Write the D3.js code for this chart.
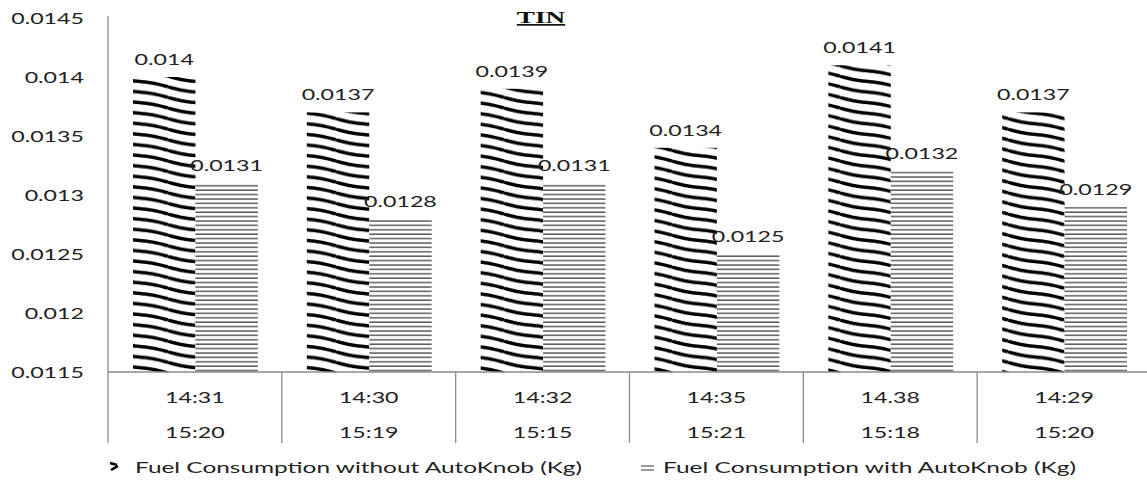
<!DOCTYPE html>
<html><head><meta charset="utf-8">
<script src="https://cdn.jsdelivr.net/npm/d3@7"></script>
<style>body{margin:0;background:#fff}svg{display:block}</style>
</head><body>
<svg id="c" width="1147" height="481"></svg>
<script>
const categoriesTop = ["14:31","14:30","14:32","14:35","14.38","14:29"];
const categoriesBottom = ["15:20","15:19","15:15","15:21","15:18","15:20"];
const withoutKnob = [0.014,0.0137,0.0139,0.0134,0.0141,0.0137];
const withKnob = [0.0131,0.0128,0.0131,0.0125,0.0132,0.0129];
const seriesNames = ["Fuel Consumption without AutoKnob (Kg)","Fuel Consumption with AutoKnob (Kg)"];
const yTicks = [0.0115,0.012,0.0125,0.013,0.0135,0.014,0.0145];
const title = "TIN";

const svg = d3.select("#c");
const SX = 1.45;
const FONT = "Lato, 'Open Sans', sans-serif";
function stretch(sel, f){ sel.each(function(){ const w=this.getComputedTextLength(); this.setAttribute("textLength", w*(f||SX)); this.setAttribute("lengthAdjust","spacingAndGlyphs"); }); }
function fitWidth(sel, w){ sel.attr("textLength", w).attr("lengthAdjust","spacingAndGlyphs"); }

const x0 = 108, x1 = 1151, yTop = 18, yBot = 372;
const x = d3.scaleBand().domain(d3.range(categoriesTop.length)).range([x0,x1]).paddingInner(0).paddingOuter(0);
const y = d3.scaleLinear().domain([0.0115,0.0145]).range([yBot,yTop]);
const inner = d3.scaleBand().domain([0,1]).range([25, x.bandwidth()-24]);

// patterns
const defs = svg.append("defs");
const W = 56, H = 10.6;
const p1 = defs.append("pattern").attr("id","wave").attr("patternUnits","userSpaceOnUse").attr("width",W).attr("height",H);
p1.append("rect").attr("width",W).attr("height",H).attr("fill","#fff");
const pts = d3.range(0, W+0.5, 1).map(t => [t, t*H/W + 0.8*Math.sin(2*Math.PI*t/W)]);
const ln = d3.line();
for (let k=-1;k<=1;k++){
  p1.append("path").attr("d", ln(pts.map(p=>[p[0], p[1]+k*H+2]))).attr("fill","none").attr("stroke","#000").attr("stroke-width",3.4);
}
const H2 = 4.4;
const p2 = defs.append("pattern").attr("id","hl").attr("patternUnits","userSpaceOnUse").attr("width",8).attr("height",H2);
p2.append("rect").attr("width",8).attr("height",H2).attr("fill","#fff");
p2.append("line").attr("x1",0).attr("x2",8).attr("y1",1).attr("y2",1).attr("stroke","#444").attr("stroke-width",1.3);

// bars
const g = svg.append("g");
const series = [withoutKnob, withKnob];
const fills = ["url(#wave)","url(#hl)"];
series.forEach((vals,si)=>{
  g.selectAll(null).data(vals).enter().append("rect")
    .attr("x",(d,i)=>x(i)+inner(si)).attr("width",inner.bandwidth())
    .attr("y",d=>y(d)).attr("height",d=>yBot-y(d)).attr("fill",fills[si]);
  g.selectAll(null).data(vals).enter().append("text")
    .attr("x",(d,i)=>x(i)+inner(si)+inner.bandwidth()/2).attr("y",d=>y(d)-12)
    .attr("text-anchor","middle").attr("font-family",FONT).attr("font-size",16).attr("fill","#222")
    .text(d=>d).call(stretch);
});

// axes
const axisColor = "#8a8a8a";
svg.append("line").attr("x1",x0).attr("x2",x0).attr("y1",yTop-2).attr("y2",yBot).attr("stroke",axisColor).attr("stroke-width",1.3);
svg.append("line").attr("x1",x0).attr("x2",x1).attr("y1",yBot).attr("y2",yBot).attr("stroke",axisColor).attr("stroke-width",1.3);
svg.selectAll(null).data(d3.range(categoriesTop.length+1)).enter().append("line")
  .attr("x1",i=>x0+i*x.bandwidth()).attr("x2",i=>x0+i*x.bandwidth()).attr("y1",yBot).attr("y2",443)
  .attr("stroke",axisColor).attr("stroke-width",1.3);

svg.selectAll(null).data(yTicks).enter().append("text")
  .attr("x",84).attr("y",d=>y(d)+6).attr("text-anchor","end")
  .attr("font-family",FONT).attr("font-size",16).attr("fill","#222")
  .text(d=>d).call(stretch);

svg.selectAll(null).data(categoriesTop).enter().append("text")
  .attr("x",(d,i)=>x(i)+x.bandwidth()/2).attr("y",403).attr("text-anchor","middle")
  .attr("font-family",FONT).attr("font-size",16).attr("fill","#222").text(d=>d).call(stretch);
svg.selectAll(null).data(categoriesBottom).enter().append("text")
  .attr("x",(d,i)=>x(i)+x.bandwidth()/2).attr("y",438).attr("text-anchor","middle")
  .attr("font-family",FONT).attr("font-size",16).attr("fill","#222").text(d=>d).call(stretch);

// title
svg.append("text").attr("x",541).attr("y",23).attr("text-anchor","middle")
  .attr("font-family","'Liberation Serif', serif").attr("font-weight","bold").attr("font-size",17)
  .attr("text-decoration","underline").attr("fill","#111").text(title).call(stretch,1.6);

// legend
const leg = svg.append("g");
const l1 = leg.append("g").attr("transform","translate(110,462)");
l1.append("path").attr("d","M0,1 L7,3").attr("stroke","#000").attr("stroke-width",2.4);
l1.append("path").attr("d","M1,8 L8,4").attr("stroke","#000").attr("stroke-width",2.4);
leg.append("text").attr("x",135).attr("y",473).attr("font-family",FONT).attr("font-size",16).attr("fill","#222")
  .text(seriesNames[0]).call(fitWidth, 447);
const l2 = leg.append("g").attr("transform","translate(641,465)");
l2.append("line").attr("x1",0).attr("x2",13).attr("y1",1).attr("y2",1).attr("stroke","#555").attr("stroke-width",1.2);
l2.append("line").attr("x1",0).attr("x2",13).attr("y1",5).attr("y2",5).attr("stroke","#555").attr("stroke-width",1.2);
leg.append("text").attr("x",663).attr("y",473).attr("font-family",FONT).attr("font-size",16).attr("fill","#222")
  .text(seriesNames[1]).call(fitWidth, 413);
</script>
</body></html>
